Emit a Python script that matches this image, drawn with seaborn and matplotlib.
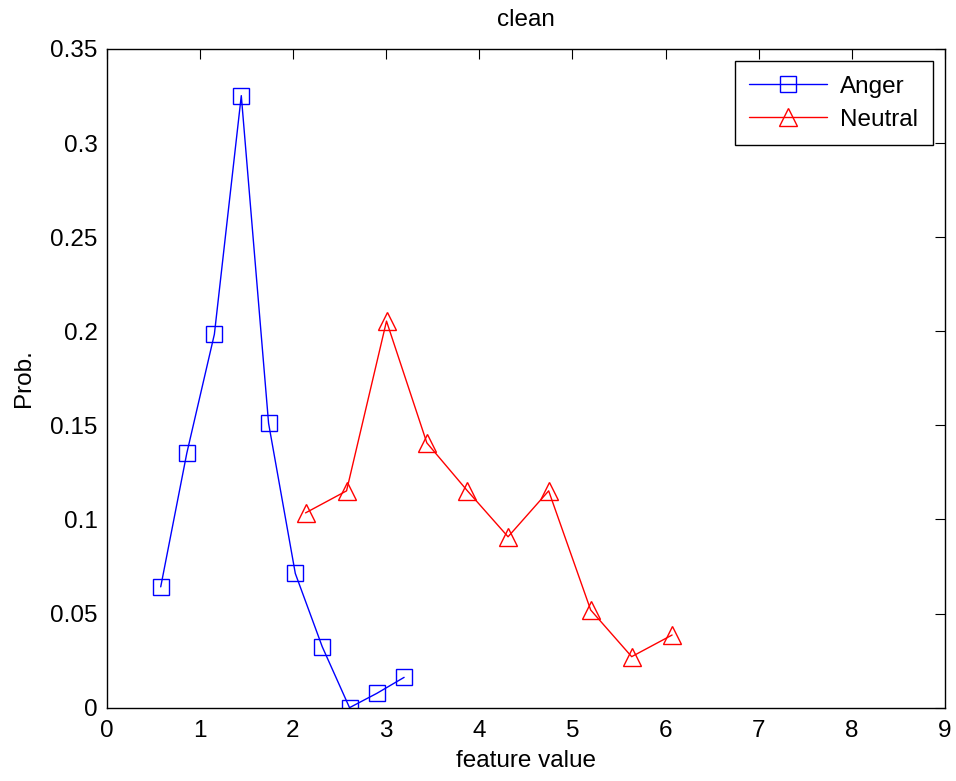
import pandas as pd
import seaborn as sns
import matplotlib.pyplot as plt

# valores
anger_x = [0.58, 0.86, 1.156, 1.445, 1.738, 2.025, 2.314, 2.607, 2.90, 3.193]
anger_y = [0.0642, 0.1352, 0.1984, 0.3252, 0.1511, 0.0713, 0.0324, 0.0, 0.0076, 0.0161]
neutral_x = [2.135, 2.575, 3.004, 3.437, 3.873, 4.309, 4.745, 5.196, 5.636, 6.07]
neutral_y = [0.1035, 0.1152, 0.2054, 0.1407, 0.1152, 0.0908, 0.1152, 0.0519, 0.0271, 0.0386]
x_ticks = [0, 1, 2, 3, 4, 5, 6, 7, 8, 9]
y_ticks = [0, 0.05, 0.1, 0.15, 0.2, 0.25, 0.3, 0.35]
y_tick_labels = ['0', '0.05', '0.1', '0.15', '0.2', '0.25', '0.3', '0.35']

df_anger = pd.DataFrame({'x': anger_x, 'y': anger_y})
df_neutral = pd.DataFrame({'x': neutral_x, 'y': neutral_y})

sns.set_style('white')
plt.rcParams['font.family'] = ['Liberation Sans', 'DejaVu Sans']
plt.rcParams['text.color'] = 'black'
plt.rcParams['axes.labelcolor'] = 'black'

fig = plt.figure(figsize=(9.56, 7.81), dpi=100)
ax = fig.add_axes([0.1116, 0.0939, 0.9885 - 0.1116, 0.9373 - 0.0939])

sns.lineplot(data=df_anger, x='x', y='y', sort=False, ax=ax, color='#0000ff',
             linewidth=1.0, marker='s', markersize=11.5, markerfacecolor='none',
             markeredgecolor='#0000ff', markeredgewidth=1.0, label='Anger')
sns.lineplot(data=df_neutral, x='x', y='y', sort=False, ax=ax, color='#ff0000',
             linewidth=1.0, marker='^', markersize=13, markerfacecolor='none',
             markeredgecolor='#ff0000', markeredgewidth=1.0, label='Neutral')

ax.set_xlim(0, 9)
ax.set_ylim(0, 0.35)
ax.set_xticks(x_ticks)
ax.set_yticks(y_ticks)
ax.set_yticklabels(y_tick_labels)
ax.tick_params(direction='in', length=7, width=0.8, top=True, right=True,
               labelsize=17.5, colors='black')
ax.tick_params(axis='x', pad=9)
ax.tick_params(axis='y', pad=6.5)
for s in ax.spines.values():
    s.set_color('black')
    s.set_linewidth(1.0)

ax.set_title('clean', fontsize=17.5, pad=16.5)
ax.set_xlabel('feature value', fontsize=17.5, labelpad=6)
ax.set_ylabel('Prob.', fontsize=17.5, labelpad=11)

leg = ax.legend(loc='upper right', fontsize=17.5, handlelength=3.2, frameon=True,
                fancybox=False, edgecolor='black', framealpha=1,
                borderaxespad=0.5, borderpad=0.6, handletextpad=0.55, labelspacing=0.45)
leg.get_frame().set_linewidth(1.0)

plt.savefig('out.png', dpi=100)
